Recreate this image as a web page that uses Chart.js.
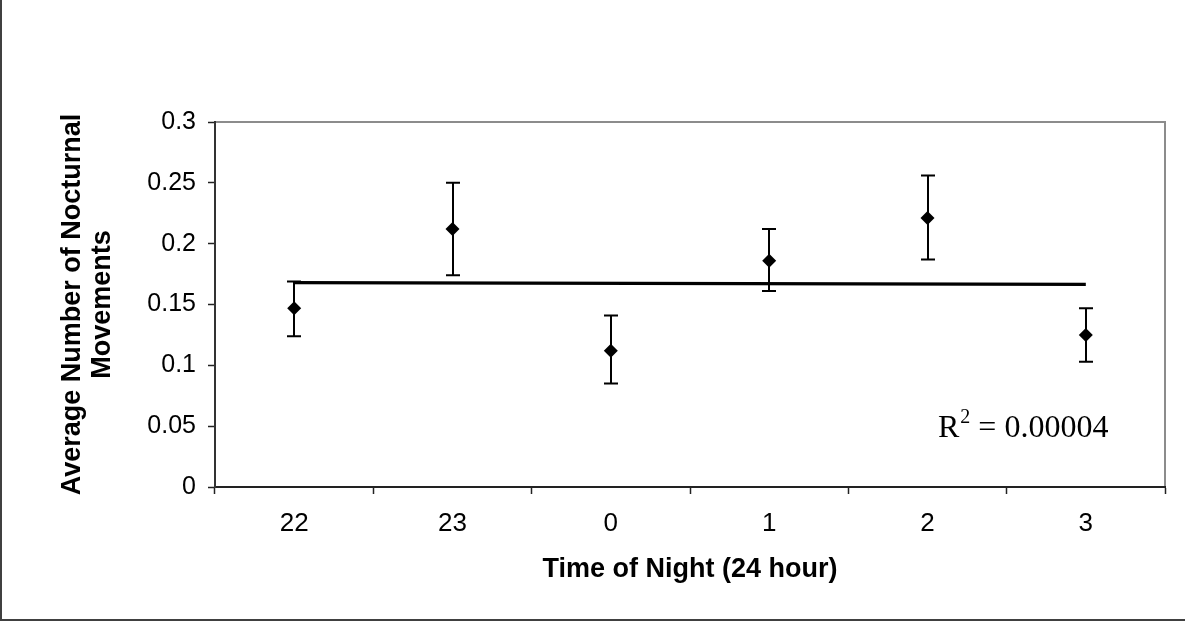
<!DOCTYPE html>
<html>
<head>
<meta charset="utf-8">
<script src="https://cdn.jsdelivr.net/npm/chart.js@4.4.1/dist/chart.umd.min.js"></script>
<style>
  html, body { margin: 0; padding: 0; background: #fff; }
  #wrap { width: 1185px; height: 622px; position: relative; }
</style>
</head>
<body>
<div id="wrap"><canvas id="c" width="1185" height="622"></canvas></div>
<script>
// ---- data ----
const categories = ['22', '23', '0', '1', '2', '3'];
const meanMovements = [0.147, 0.212, 0.112, 0.186, 0.221, 0.125];
const errUpper = [0.169, 0.250, 0.141, 0.212, 0.256, 0.147];
const errLower = [0.124, 0.174, 0.085, 0.161, 0.187, 0.103];
const trendEnds = [0.1680, null, null, null, null, 0.1665];
const yTickValues = [0, 0.05, 0.1, 0.15, 0.2, 0.25, 0.3];
const rSquaredText = '0.00004';

const SANS = "'Liberation Sans', Arial, sans-serif";
const SERIF = "'Liberation Serif', 'Times New Roman', serif";

const frameAndErrors = {
  id: 'frameAndErrors',
  beforeDraw(chart) {
    const ctx = chart.ctx;
    ctx.save();
    ctx.fillStyle = '#fff';
    ctx.fillRect(0, 0, chart.width, chart.height);
    // outer frame (left and bottom visible)
    ctx.strokeStyle = '#404040';
    ctx.lineWidth = 2;
    ctx.beginPath();
    ctx.moveTo(1, 0);
    ctx.lineTo(1, 620);
    ctx.lineTo(chart.width, 620);
    ctx.stroke();
    // plot area top/right border
    const a = chart.chartArea;
    ctx.strokeStyle = '#8c8c8c';
    ctx.lineWidth = 2;
    ctx.beginPath();
    ctx.moveTo(a.left, a.top);
    ctx.lineTo(a.right, a.top);
    ctx.lineTo(a.right, a.bottom);
    ctx.stroke();
    ctx.restore();
  },
  afterDatasetsDraw(chart) {
    const ctx = chart.ctx;
    const xs = chart.scales.x, ys = chart.scales.y;
    ctx.save();
    ctx.strokeStyle = '#000';
    ctx.lineWidth = 2;
    for (let i = 0; i < categories.length; i++) {
      const x = Math.round(xs.getPixelForValue(i));
      const yh = ys.getPixelForValue(errUpper[i]);
      const yl = ys.getPixelForValue(errLower[i]);
      ctx.beginPath();
      ctx.moveTo(x, yh); ctx.lineTo(x, yl);
      ctx.moveTo(x - 7, yh); ctx.lineTo(x + 7, yh);
      ctx.moveTo(x - 7, yl); ctx.lineTo(x + 7, yl);
      ctx.stroke();
    }
    // R squared annotation
    const a = chart.chartArea;
    const bx = a.right - 227, by = a.bottom - 50;
    ctx.fillStyle = '#000';
    ctx.textBaseline = 'alphabetic';
    ctx.textAlign = 'left';
    ctx.font = '32px ' + SERIF;
    ctx.fillText('R', bx, by);
    const rw = ctx.measureText('R').width;
    ctx.font = '20px ' + SERIF;
    ctx.fillText('2', bx + rw + 1, by - 14);
    const sw = ctx.measureText('2').width;
    ctx.font = '32px ' + SERIF;
    ctx.fillText(' = ' + rSquaredText, bx + rw + sw + 1, by);
    ctx.restore();
  }
};

new Chart(document.getElementById('c'), {
  type: 'line',
  data: {
    labels: categories,
    datasets: [
      {
        label: 'Trend',
        data: trendEnds,
        spanGaps: true,
        borderColor: '#000',
        borderWidth: 3.3,
        pointRadius: 0,
        fill: false,
        order: 2
      },
      {
        label: 'Average',
        data: meanMovements,
        showLine: false,
        pointStyle: 'rectRot',
        pointRadius: 7,
        pointBackgroundColor: '#000',
        pointBorderColor: '#000',
        pointBorderWidth: 0,
        order: 1
      }
    ]
  },
  options: {
    responsive: false,
    animation: false,
    events: [],
    layout: { padding: { left: 0, top: 122, right: 20, bottom: 0 } },
    plugins: { legend: { display: false }, tooltip: { enabled: false } },
    scales: {
      x: {
        type: 'category',
        offset: true,
        afterFit(s) { s.height = 135; },
        grid: {
          offset: true,
          drawOnChartArea: false,
          drawTicks: true,
          tickLength: 7,
          tickWidth: 1.5,
          tickColor: '#222'
        },
        border: { color: '#222', width: 2 },
        ticks: {
          color: '#000',
          font: { family: SANS, size: 26 },
          padding: 14,
          maxRotation: 0
        },
        title: {
          display: true,
          text: 'Time of Night (24 hour)',
          color: '#000',
          font: { family: SANS, size: 27, weight: 'bold', lineHeight: 1.1 },
          padding: { top: 0, bottom: 38 }
        }
      },
      y: {
        min: 0,
        max: 0.3,
        afterFit(s) { s.width = 215; },
        afterBuildTicks(s) { s.ticks = yTickValues.map(v => ({ value: v })); },
        grid: {
          drawOnChartArea: false,
          drawTicks: true,
          tickLength: 7,
          tickWidth: 1.5,
          tickColor: '#222'
        },
        border: { color: '#333', width: 2 },
        ticks: {
          color: '#000',
          font: { family: SANS, size: 25 },
          padding: 12,
          callback: v => String(Math.round(v * 100) / 100)
        },
        title: {
          display: true,
          text: ['Average Number of Nocturnal', 'Movements'],
          color: '#000',
          font: { family: SANS, size: 27, weight: 'bold', lineHeight: 1.1 },
          padding: { top: 58, bottom: 0 }
        }
      }
    }
  },
  plugins: [frameAndErrors]
});
</script>
</body>
</html>
